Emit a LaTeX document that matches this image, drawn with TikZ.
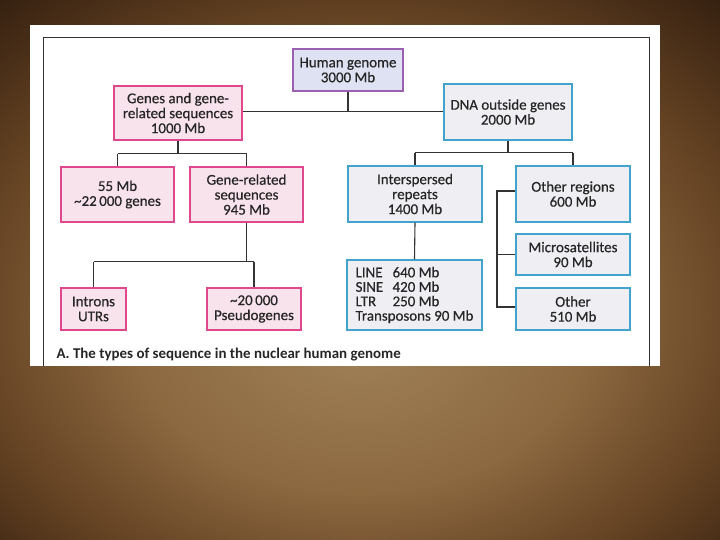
\documentclass[tikz,border=0pt]{standalone}
\usepackage{fontspec}
\setmainfont{Carlito}
\newfontfamily\boxfam{Carlito}[FakeBold=0.5]

\definecolor{genepink}{HTML}{E0488E}
\definecolor{genefill}{HTML}{F8E2EB}
\definecolor{dnablue}{HTML}{42A4CC}
\definecolor{dnafill}{HTML}{EEEEF3}
\definecolor{rootpurple}{HTML}{9A60B2}
\definecolor{rootfill}{HTML}{DEE2F3}
\definecolor{linegrey}{HTML}{333333}

\pgfdeclareradialshading{grunge}{\pgfpoint{0bp}{-6bp}}{%
	rgb(0bp)=(0.63,0.51,0.35);
	rgb(16bp)=(0.55,0.41,0.25);
	rgb(28bp)=(0.38,0.25,0.13);
	rgb(38bp)=(0.20,0.12,0.06);
	rgb(48bp)=(0.11,0.07,0.03);
	rgb(72bp)=(0.07,0.04,0.02)}

\newcommand*{\boxfont}{\boxfam\fontsize{15}{15}\selectfont}

\begin{document}
\begin{tikzpicture}
[
	x=1bp,
	y=-1bp,
	rootbox/.style={draw=rootpurple,fill=rootfill,line width=1.4bp,align=center,inner sep=0pt,font=\boxfont,text=black!85},
	pinkbox/.style={draw=genepink,fill=genefill,line width=1.4bp,align=center,inner sep=0pt,font=\boxfont,text=black!85},
	bluebox/.style={draw=dnablue,fill=dnafill,line width=1.4bp,align=center,inner sep=0pt,font=\boxfont,text=black!85},
	link/.style={draw=linegrey,line width=1.1bp}
]

	% background and panel
	\useasboundingbox (0,0) rectangle (720,540);
	\shade[shading=grunge] (0,0) rectangle (720,540);
	\fill[white] (30,25) rectangle (660,366);
	\draw[linegrey,line width=0.8bp] (43,366) -- (43,37) -- (649,37) -- (649,366);

	% top level
	\node[rootbox,minimum width=110bp,minimum height=42bp] at (348,70) (hg) {Human genome\\3000 Mb};
	\node[pinkbox,minimum width=128bp,minimum height=54bp] at (178,113) (genes) {Genes and gene-\\related sequences\\1000 Mb};
	\node[bluebox,minimum width=128bp,minimum height=56bp] at (508,112) (dna) {DNA outside genes\\2000 Mb};

	\draw[link] (hg.south) -- ++(0,20) coordinate (hgj);
	\draw[link] (genes.east |- hgj) -- (dna.west |- hgj);

	% genes side
	\node[pinkbox,minimum width=113bp,minimum height=55bp] at (117.5,194.5) (coding) {55 Mb\\\textasciitilde 22\,000 genes};
	\node[pinkbox,minimum width=113bp,minimum height=55bp] at (246.5,194.5) (generel) {Gene-related\\sequences\\945 Mb};
	\node[pinkbox,minimum width=65bp,minimum height=42bp] at (93.5,309) (introns) {Introns\\UTRs};
	\node[pinkbox,minimum width=94bp,minimum height=42bp] at (254,309) (pseudo) {\textasciitilde 20\,000\\Pseudogenes};

	\draw[link] (genes.south) -- ++(0,13) coordinate (gj);
	\draw[link] (coding.north |- gj) -- (generel.north |- gj);
	\draw[link] (coding.north |- gj) -- (coding.north);
	\draw[link] (generel.north |- gj) -- (generel.north);

	\draw[link] (generel.south) -- ++(0,39) coordinate (rj);
	\draw[link] (introns.north |- rj) -- (pseudo.north |- rj);
	\draw[link] (introns.north |- rj) -- (introns.north);
	\draw[link] (pseudo.north |- rj) -- (pseudo.north);

	% outside genes side
	\node[bluebox,minimum width=134bp,minimum height=56bp] at (415,194) (inter) {Interspersed\\repeats\\1400 Mb};
	\node[bluebox,minimum width=114bp,minimum height=56bp] at (573,194) (otherreg) {Other regions\\600 Mb};
	\node[bluebox,minimum width=114bp,minimum height=41bp] at (573,254.5) (micro) {Microsatellites\\90 Mb};
	\node[bluebox,minimum width=114bp,minimum height=42bp] at (573,309) (other) {Other\\510 Mb};
	\node[bluebox,align=left,minimum width=135bp,minimum height=70bp,font=\boxfam\fontsize{15}{14.5}\selectfont] at (414.5,295) (repeats)
		{\makebox[37bp][l]{LINE}640 Mb\\\makebox[37bp][l]{SINE}420 Mb\\\makebox[37bp][l]{LTR}250 Mb\\Transposons 90 Mb};

	\draw[link] (dna.south) -- ++(0,12) coordinate (dj);
	\draw[link] (inter.north |- dj) -- (otherreg.north |- dj);
	\draw[link] (inter.north |- dj) -- (inter.north);
	\draw[link] (otherreg.north |- dj) -- (otherreg.north);
	\draw[link] (inter.south) -- (repeats.north);

	\coordinate (bk) at (497,191);
	\draw[link] (otherreg.west |- bk) -- (bk) -- (bk |- 0,307) -- (other.west |- 0,307);
	\draw[link] (bk |- micro.west) -- (micro.west);

	% caption
	\node[anchor=base west,font=\fontsize{15}{15}\selectfont\bfseries,text=black!85] at (53,358) (caption) {A. The types of sequence in the nuclear human genome};

\end{tikzpicture}
\end{document}
